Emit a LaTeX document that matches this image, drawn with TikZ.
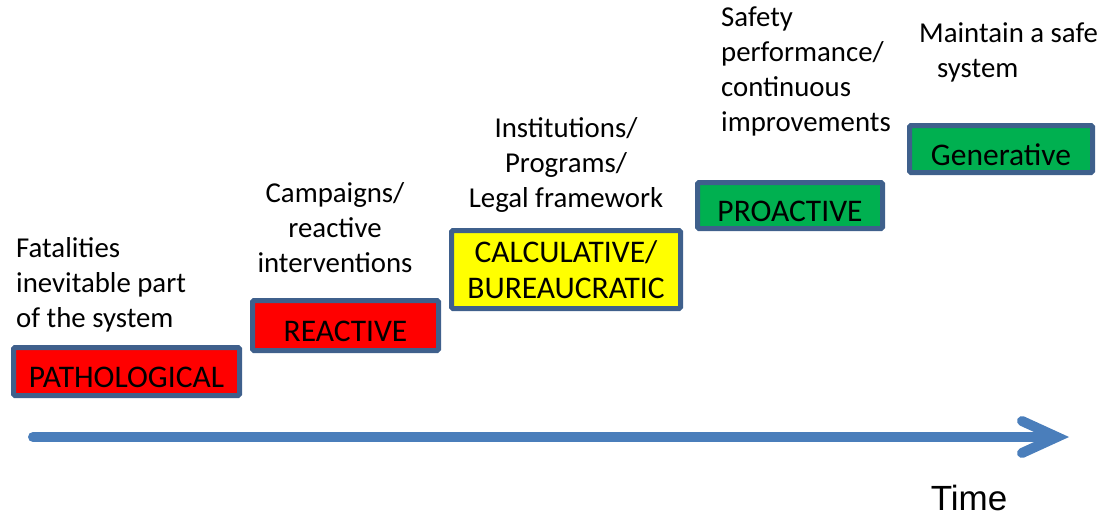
\documentclass[tikz,border=0pt]{standalone}
\usepackage{fontspec}
\setmainfont{Carlito}
\newfontfamily\timefont{Liberation Sans}
\definecolor{boxline}{HTML}{3F608C}
\definecolor{boxred}{HTML}{FF0000}
\definecolor{boxyellow}{HTML}{FFFF00}
\definecolor{boxgreen}{HTML}{00B050}
\definecolor{timeblue}{HTML}{4A7EBB}
\begin{document}
\begin{tikzpicture}[x=1pt,y=-1pt,
  stage/.style={draw=boxline, line width=5pt, rounded corners=1.5pt, inner sep=0pt,
    font=\fontsize{31.5}{36}\selectfont, text height=32pt, text depth=0pt},
  note/.style={inner sep=0pt, font=\fontsize{28.8}{35}\selectfont},
  timeline/.style={draw=timeblue, line width=10pt, line cap=round, line join=miter}]
\useasboundingbox (0,0) rectangle (1105,517);

% stages of the safety culture ladder
\node[stage, fill=boxred, minimum width=226pt, minimum height=48pt] (path) at (126.5,371.5) {PATHOLOGICAL};
\node[stage, fill=boxred, minimum width=186pt, minimum height=50pt] (reac) at (345.5,325.5) {REACTIVE};
\node[stage, fill=boxyellow, minimum width=229pt, minimum height=78pt, align=center,
      text height=, text depth=] (calc) at (566,269.5) {CALCULATIVE/\\BUREAUCRATIC};
\node[stage, fill=boxgreen, minimum width=185pt, minimum height=46pt] (proa) at (790,205.5) {PROACTIVE};
\node[stage, fill=boxgreen, minimum width=183pt, minimum height=47pt] (gene) at (1001,149) {Generative};

% descriptions above each stage
\node[note, anchor=north west, align=left] (npath) at (16,237) {Fatalities\\inevitable part\\of the system};
\node[note, anchor=north, align=center] (nreac) at (335,182) {Campaigns/\\reactive\\interventions};
\node[note, anchor=north, align=center] (ncalc) at (566,117) {Institutions/\\Programs/\\Legal framework};
\node[note, anchor=north west, align=left] (nproa) at (721,7) {Safety\\performance/\\continuous\\improvements};
\node[note, anchor=north west, align=left] (ngene) at (919,22) {Maintain a safe\\\hspace*{18pt}system};

% time axis
\coordinate (t0) at (33,437);
\coordinate (t1) at (1057,437);
\coordinate (tu) at (1022,421);
\coordinate (td) at (1022,453);
\draw[timeline] (t0) -- (t1);
\draw[timeline] (tu) -- (t1) -- (td);
\node[inner sep=0pt, font=\timefont\fontsize{35}{40}\selectfont, anchor=base] (time) at (969,510) {Time};
\end{tikzpicture}
\end{document}
